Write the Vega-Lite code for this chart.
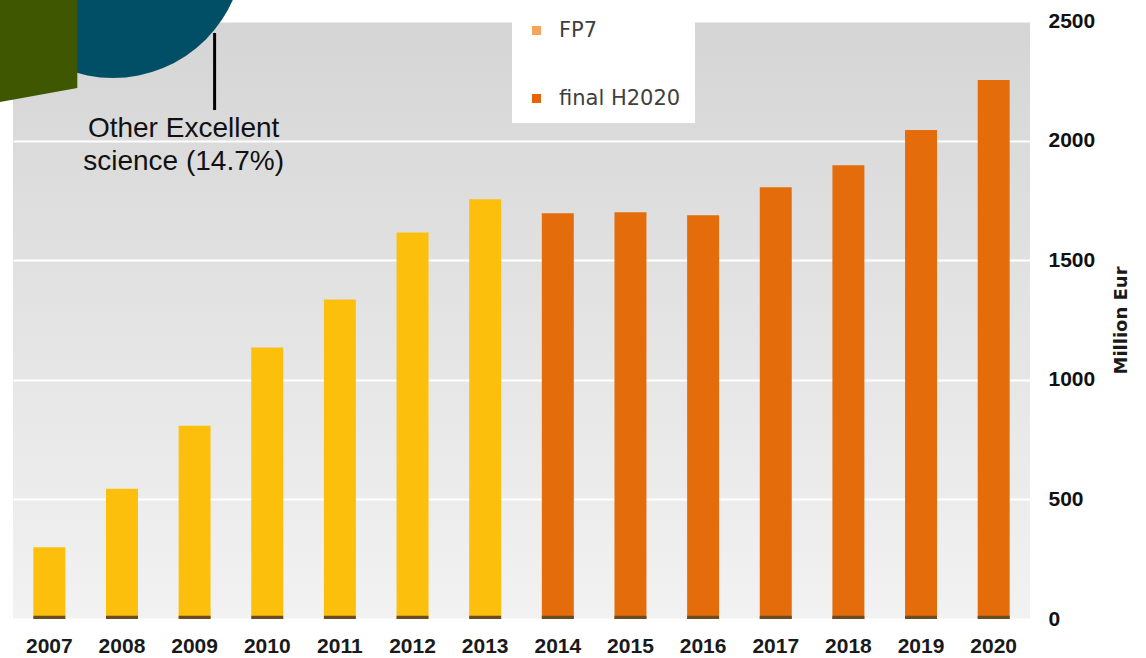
{
  "$schema": "https://vega.github.io/schema/vega-lite/v6.json",
  "autosize": {"type": "none"},
  "width": 1017,
  "height": 598,
  "padding": {"left": 13, "top": 21, "right": 116, "bottom": 39},
  "background": "white",
  "config": {
    "view": {"stroke": null, "fill": {"gradient": "linear", "x1": 0, "y1": 0, "x2": 0, "y2": 1, "stops": [{"offset": 0, "color": "#d5d5d5"}, {"offset": 1, "color": "#f2f2f2"}]}},
    "legend": {
      "orient": "none", "legendX": 499, "legendY": -15, "fillColor": "white", "padding": 14,
      "symbolType": "square", "symbolSize": 81, "symbolOpacity": 1, "symbolStrokeWidth": 0,
      "labelFont": "DejaVu Sans", "labelFontSize": 21, "labelColor": "#404040", "labelOffset": 12, "rowPadding": 46
    }
  },
  "data": {"values": [
    {"year": "2007", "value": 300, "programme": "FP7"},
    {"year": "2008", "value": 545, "programme": "FP7"},
    {"year": "2009", "value": 808, "programme": "FP7"},
    {"year": "2010", "value": 1135, "programme": "FP7"},
    {"year": "2011", "value": 1336, "programme": "FP7"},
    {"year": "2012", "value": 1616, "programme": "FP7"},
    {"year": "2013", "value": 1755, "programme": "FP7"},
    {"year": "2014", "value": 1696, "programme": "final H2020"},
    {"year": "2015", "value": 1700, "programme": "final H2020"},
    {"year": "2016", "value": 1688, "programme": "final H2020"},
    {"year": "2017", "value": 1805, "programme": "final H2020"},
    {"year": "2018", "value": 1897, "programme": "final H2020"},
    {"year": "2019", "value": 2044, "programme": "final H2020"},
    {"year": "2020", "value": 2253, "programme": "final H2020"}
  ]},
  "resolve": {"scale": {"color": "independent"}},
  "layer": [
    {
      "mark": {"type": "bar", "opacity": 0},
      "encoding": {
        "x": {"field": "year", "type": "ordinal", "scale": {"type": "band", "paddingInner": 0.56, "paddingOuter": 0.28},
          "axis": {"title": null, "orient": "bottom", "labelAngle": 0, "ticks": false, "domain": false, "grid": false,
            "labelFont": "Liberation Sans", "labelFontWeight": "bold", "labelFontSize": 21, "labelColor": "#1a1a1a", "labelPadding": 16}},
        "y": {"field": "value", "type": "quantitative", "scale": {"domain": [0, 2500], "nice": false},
          "axis": {"orient": "right", "values": [0, 500, 1000, 1500, 2000, 2500], "format": "d", "grid": true, "gridColor": "white", "gridWidth": 2,
            "ticks": false, "domain": false, "labelFont": "Liberation Sans", "labelFontWeight": "bold", "labelFontSize": 21,
            "labelColor": "#111111", "labelPadding": 18, "title": "Million Eur", "titleAngle": 270, "titleFont": "DejaVu Sans",
            "titleFontWeight": "bold", "titleFontSize": 18, "titleColor": "#1a1a1a", "titlePadding": 36}}
      }
    },
    {
      "data": {"values": [{"segment": "Other Excellent science", "share": 14.7}]},
      "mark": {"type": "arc", "radius": 131, "theta": 0, "theta2": 6.2832, "color": "#004f66", "xOffset": -9},
      "encoding": {
        "x": {"datum": "2008", "type": "ordinal"},
        "y": {"datum": 2809, "type": "quantitative"}
      }
    },
    {
      "data": {"values": [{"segment": "other pie segment"}]},
      "mark": {"type": "arc", "radius": 150, "theta": 4.533, "theta2": 6.2832, "color": "#3f5700", "xOffset": 28},
      "encoding": {
        "x": {"datum": "2007", "type": "ordinal"},
        "y": {"datum": 2220, "type": "quantitative"}
      }
    },
    {
      "mark": {"type": "bar"},
      "encoding": {
        "x": {"field": "year", "type": "ordinal"},
        "y": {"field": "value", "type": "quantitative"},
        "color": {"field": "programme", "type": "nominal", "legend": null,
          "scale": {"domain": ["FP7", "final H2020"], "range": ["#fbbf0c", "#e46c0a"]}}
      }
    },
    {
      "mark": {"type": "bar", "color": "#6b4c1f"},
      "encoding": {
        "x": {"field": "year", "type": "ordinal"},
        "y": {"datum": 0, "type": "quantitative"},
        "y2": {"datum": 14}
      }
    },
    {
      "mark": {"type": "point", "opacity": 0, "filled": true, "shape": "square"},
      "encoding": {
        "x": {"field": "year", "type": "ordinal"},
        "y": {"field": "value", "type": "quantitative"},
        "color": {"field": "programme", "type": "nominal", "title": null,
          "scale": {"domain": ["FP7", "final H2020"], "range": ["#f5a55a", "#e8620c"]}}
      }
    },
    {
      "data": {"values": [{"label": "Other Excellent\nscience (14.7%)"}]},
      "mark": {"type": "text", "font": "Liberation Sans", "fontSize": 28, "color": "#111111", "lineBreak": "\n", "lineHeight": 33, "baseline": "alphabetic", "align": "center", "dx": -11},
      "encoding": {
        "x": {"datum": "2009", "type": "ordinal"},
        "y": {"datum": 2015, "type": "quantitative"},
        "text": {"field": "label"}
      }
    },
    {
      "data": {"values": [{"label": "leader"}]},
      "mark": {"type": "rule", "color": "black", "strokeWidth": 3, "xOffset": 20},
      "encoding": {
        "x": {"datum": "2009", "type": "ordinal"},
        "y": {"datum": 2450, "type": "quantitative"},
        "y2": {"datum": 2128}
      }
    }
  ]
}
